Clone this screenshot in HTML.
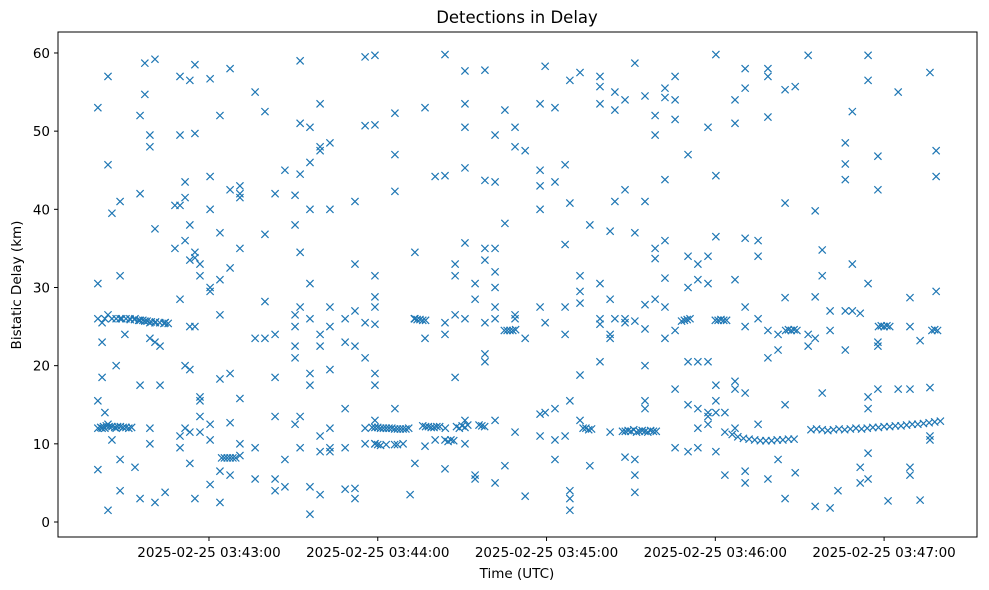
<!DOCTYPE html>
<html><head><meta charset="utf-8"><style>
html,body{margin:0;padding:0;background:#fff;}
svg{display:block;font-family:"DejaVu Sans","Liberation Sans",sans-serif;}
</style></head><body>
<svg id="chart" width="989" height="590" xmlns="http://www.w3.org/2000/svg">
<text x="517" y="23" text-anchor="middle" font-size="16.5" fill="#000">Detections in Delay</text>
<text x="517" y="578" text-anchor="middle" font-size="13.5" fill="#000">Time (UTC)</text>
<text x="0" y="0" transform="translate(21,285) rotate(-90)" text-anchor="middle" font-size="13.5" fill="#000">Bistatic Delay (km)</text>
<g id="marks"></g>
<g id="axes"></g>
</svg>
<script>
// time in seconds after 2025-02-25 03:42:00 UTC, delay in km
const colTimes = [20.5,22.0,23.0,24.1,25.5,27.0,28.4,30.1,31.9,33.7,35.5,37.2,39.0,40.8,42.6,44.4,47.9,49.7,51.5,53.2,55.0,56.8,60.4,63.9,67.5,71.0,76.4,79.9,83.5,87.0,90.6,92.4,95.9,99.5,103.0,108.4,111.9,115.5,119.0,126.1,131.5,133.2,136.8,140.4,143.9,147.5,151.0,154.6,158.1,161.7,165.2,168.8,172.4,177.7,179.5,183.0,186.6,188.3,191.9,195.4,199.0,202.6,204.3,207.9,211.4,215.0,218.6,222.1,225.7,230.3,233.8,237.4,240.2,243.4,247.0,250.6,255.2,258.7,262.3,264.8,268.4,273.0,275.5,278.0,280.8,283.6,286.2,288.7,291.5,294.3,297.8,301.4,305.0,309.2,312.8,316.3,318.5];
const colDelays = [
[15.5,12,6.7,53,30.5,26],[18.5,23,25.5,12],[26,12,14],[57,45.7,26.5,1.5,12.5],[39.5,26,10.5],[12,20,26],[31.5,41,8,4,26],[24],[26],[7,26],
[3,25.8,17.5,42,52],[58.7,54.7,25.7],[23.5,12,10,48,49.5,25.5],[59.2,2.5,37.5,23,25.5],[22.5,17.5],[25.5,3.8,25.5],[40.5,35],[57,49.5,40.5,28.5,11,9.5],[43.5,41.5,36,20,12],[33.5,38,25,19.5,7.5,11.5,56.5],
[33.8,34.5,25,49.7,58.5,3],[33,31.5,15.5,16,11.5,13.5],[56.7,44.2,40,30,29.5,10.5,12.5,4.8],[31,37,52,6.5,2.5,18.3,26.5],[42.5,58,32.5,6,12.7,19],[42,41.5,43,8.5,15.8,35,10],[55,23.5,5.5,9.5],[52.5,36.8,28.2,23.5],[42,24,18.5,13.5,4,5.5],[45,4.5,8],
[22.5,21,25,26.5,12.5,41.8,38],[59,51,44.5,34.5,27.5,9.5,13.5],[46,40,30.5,50.5,26,17.5,1,4.5,19],[53.5,47.5,48,24,22.5,9,3.5,11],[48.5,40,19.5,12,9.5,9,27.5,25],[26,23,14.5,9.5,4.2],[41,33,27,22.5,4.3,3],[59.5,50.7,21,25.5,10,12],[59.7,50.8,31.5,28.8,19,17.5,10,27.5,25.3,13],[42.3,52.3,47,14.5],
[3.5],[34.5,26,7.5],[53,23.5,9.7],[44.2,10.5],[59.8,44.3,24,25.5,6.8,10.5],[31.5,26.5,18.5,33],[53.5,57.7,50.5,45.3,35.7,26,10,13],[30.5,28.5,5.5,6],[57.8,43.7,35,33.5,21.5,25.5,20.5],[49.5,35,43.5,32,30,27.5,26,13,5],
[52.7,38.2,7.2],[48,50.5,26,26.5,11.5],[47.5,23.5,3.3],[53.5,45,40,43,27.5,11,13.8],[58.3,25.5,14],[53,43.5,14.5,10.5,8],[45.7,35.5,27.5,24,11],[56.5,40.8,15.5,3,1.5,4],[57.5,31.5,29.5,28,18.8,13],[38,7.2],
[55.7,57,53.5,26,25.3,20.5,30.5],[24,23.5,28.5,37.2,11.5],[55,52.7,41,26],[54,42.5,26,25.5,8.3],[58.7,37,25.7,6,3.8,8],[54.5,41,27.8,24.7,20,15.5,14.5],[52,49.5,35,33.7,28.5],[55.5,54.3,43.8,36,31.2,27.5,23.5],[57,51.5,54,24.5,17,9.5],[47,34,30,20.5,9,15],
[33,31,20.5,14.5,9.5,12],[50.5,34,30.5,20.5,13.5,14,12.5],[59.8,44.3,36.5,17.5,9,15.5,14],[14,11.5,6],[54,51,31,18,12,17],[58,55.5,36.3,27.5,25,16.5,6.5,5],[36,34,26,12.5],[58,57,51.8,24.5,21,5.5],[22,24,8],[55.3,40.8,28.7,3,15],
[55.7,6.3],[59.7,22.5,24],[39.8,23.5,2,28.8],[34.8,31.5,16.5],[27,24.5,1.8],[4],[48.5,45.8,27,22,43.8],[52.5,33,27],[26.7,7,5],[59.7,56.5,30.5,16,14.5,8.8,5.5],
[46.8,42.5,23,22.5,17],[2.7],[55,17],[28.7,25,17,7,6],[23.2,2.8],[57.5,17.2,11,10.5],[47.5,44.2,29.5]
];
// dense tracks
const bandTimes = [21.5,22.5,23.5,24.5,25.5,26.5,27.5,28.5,29.5,30.5,31.5,32.5, 29,30.5,32,33.5,35,36.5,38,39.5,41,42.5,44,45.5, 64.5,65.5,66.5,67.5,68.5,69.5, 118,119,120,121,122,123,124,125,126,127,128,129,130,131, 119,120,121,123,126,127,129, 136,137,138,139,140,141,142, 144,145,146,147,148,149,150,151,152, 133,134,135,136,137, 156,157,158, 165,166,167,168,169, 193,194,195,196, 207,208,209,210,211,212,213,214,215,216,217,218,219, 228,229,230,231, 240,241,242,243,244, 246,248,250,252,254,256,258,260,262,264,266,268, 265,266,267,268,269, 274,276,278,280,282,284,286,288,290,292,294,296,298,300,302,304,306,308,310,312,314,316,318,320, 298,299,300,301,302, 317,318,319];
const bandDelays = [12.1,12.2,12.3,12.2,12.2,12.1,12.2,12.2,12.1,12.1,12,12.1, 26,26,25.9,25.9,25.8,25.8,25.7,25.6,25.6,25.5,25.4,25.4, 8.2,8.2,8.2,8.2,8.2,8.2, 12.1,12.1,12.1,12,12,12,12,12,11.9,11.9,11.9,11.9,11.9,12, 10,9.9,9.8,9.9,9.9,9.9,10, 12.3,12.2,12.2,12.1,12.1,12.2,12.2, 12,10.3,10.5,10.4,12.2,12,12.3,12.1,12.4, 26,25.9,25.9,25.8,25.8, 12.4,12.3,12.2, 24.5,24.5,24.5,24.5,24.6, 12,12,11.8,11.9, 11.6,11.6,11.7,11.6,11.8,11.5,11.6,11.7,11.6,11.5,11.7,11.6,11.6, 25.7,25.8,25.9,26, 25.8,25.8,25.9,25.8,25.8, 11.2,10.9,10.7,10.6,10.5,10.4,10.4,10.4,10.5,10.5,10.6,10.6, 24.5,24.6,24.5,24.6,24.5, 11.8,11.9,11.8,11.7,11.8,11.9,11.8,11.9,12,11.9,12,12.1,12.1,12.2,12.2,12.3,12.3,12.4,12.5,12.5,12.6,12.7,12.8,12.9, 25,25.1,25,25.1,25, 24.5,24.6,24.5];
const yTickValues = [0,10,20,30,40,50,60];
const xTickSeconds = [60,120,180,240,300];
const xTickLabels = ["2025-02-25 03:43:00","2025-02-25 03:44:00","2025-02-25 03:45:00","2025-02-25 03:46:00","2025-02-25 03:47:00"];

const NS = "http://www.w3.org/2000/svg";
const L=58,R=977,T=32,B=537;
function xScale(t){return 40.2 + 2.813*t;}
function yScale(d){return 522 - d*7.817;}
const marks=document.getElementById('marks');
function mk(tag,attrs,parent){const e=document.createElementNS(NS,tag);for(const k in attrs)e.setAttribute(k,attrs[k]);parent.appendChild(e);return e;}
function drawX(t,d){
  const x=xScale(t),y=yScale(d),s=3.6;
  const p=mk('path',{d:`M${x-s},${y-s}L${x+s},${y+s}M${x-s},${y+s}L${x+s},${y-s}`,stroke:'#1f77b4','stroke-width':1.2,fill:'none'},marks);
  
  
}
colTimes.forEach((t,i)=>colDelays[i].forEach(d=>drawX(t,d)));
bandTimes.forEach((t,i)=>drawX(t,bandDelays[i]));

const axes=document.getElementById('axes');
const frame=mk('rect',{x:L,y:T,width:R-L,height:B-T,fill:'none',stroke:'#000','stroke-width':1},axes);


yTickValues.forEach(v=>{
  const y=yScale(v);
  mk('line',{x1:L-4,x2:L,y1:y,y2:y,stroke:'#000'},axes);
  const tx=mk('text',{x:L-8,y:y+5,'text-anchor':'end','font-size':13.5},axes);
  tx.textContent=v;
  
  
});
xTickSeconds.forEach((s,i)=>{
  const x=xScale(s);
  mk('line',{x1:x,x2:x,y1:B,y2:B+4,stroke:'#000'},axes);
  const tx=mk('text',{x:x,y:B+20,'text-anchor':'middle','font-size':13.5},axes);
  tx.textContent=xTickLabels[i];
  
  
});
</script>
</body></html>
